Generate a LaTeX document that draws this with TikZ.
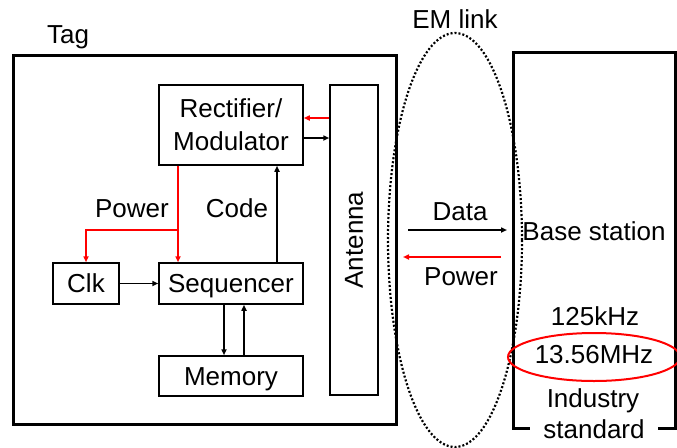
\documentclass[tikz,border=0pt]{standalone}
\usepackage{fontspec}
\setmainfont{Liberation Sans}
\usetikzlibrary{arrows.meta}

\begin{document}
\begin{tikzpicture}[x=1pt,y=-1pt,
    box/.style={draw,line width=1.5pt,inner sep=0pt,align=center},
    onebox/.style={box,text height=18.6pt,text depth=0pt},
    lbl/.style={anchor=base,inner sep=0pt},
    sig/.style={->,line width=1.5pt},
    pwr/.style={->,line width=1.8pt,red},
    >={Triangle[length=6pt,width=5pt]},
    font=\fontsize{26}{33}\selectfont]
    \useasboundingbox (0,0) rectangle (677,447);
    % tag side
    \draw[line width=3pt] (13,55) rectangle (396,424);
    \node[lbl] (tag) at (68,43) {Tag};
    \node[box,minimum width=144pt,minimum height=80pt] (rect) at (231,125) {Rectifier/\\Modulator};
    \node[box,minimum width=48pt,minimum height=310pt] (ant) at (354,240) {\rotatebox{90}{Antenna}};
    \node[onebox,minimum width=66pt,minimum height=41pt] (clk) at (86,283.5) {Clk};
    \node[onebox,minimum width=144pt,minimum height=41pt] (seq) at (231,283.5) {Sequencer};
    \node[onebox,minimum width=144pt,minimum height=40pt] (mem) at (231,376) {Memory};
    \node[lbl] (pwrlbl) at (132,217) {Power};
    \node[lbl] (codelbl) at (237,217) {Code};
    \coordinate (split) at (178,230);
    \draw[pwr,<-] ([yshift=7pt]rect.east) -- ([yshift=7pt]rect.east -| ant.west);
    \draw[sig] ([yshift=-13pt]rect.east) -- ([yshift=-13pt]rect.east -| ant.west);
    \draw[sig] ([xshift=46pt]seq.north) -- ([xshift=46pt]rect.south);
    \draw[pwr] ([xshift=-53pt]rect.south) -- ([xshift=-53pt]seq.north);
    \draw[pwr] (split) -| (clk.north);
    \draw[sig] (clk) -- (seq);
    \draw[sig] ([xshift=-7pt]seq.south) -- ([xshift=-7pt]mem.north);
    \draw[sig] ([xshift=13pt]mem.north) -- ([xshift=13pt]seq.south);
    % em link
    \draw[line width=2.2pt,dash pattern=on 2pt off 2pt] (455,240) ellipse [x radius=67pt,y radius=207pt];
    \node[lbl] (emlbl) at (455,28) {EM link};
    \coordinate (datas) at (408,230);
    \coordinate (datae) at (507,230);
    \coordinate (pwrs) at (501,257);
    \coordinate (pwre) at (403,257);
    \draw[sig] (datas) -- (datae);
    \draw[pwr] (pwrs) -- (pwre);
    \node[lbl] (datalbl) at (460,220) {Data};
    \node[lbl] (pwrlbl2) at (461,285) {Power};
    % base station
    \draw[line width=3pt] (513,52) rectangle (675,428);
    \node[lbl] (base) at (594,240) {Base station};
    \node[lbl] (khz) at (595,325) {125kHz};
    \node[lbl] (mhz) at (594,363) {13.56MHz};
    \draw[red,line width=2pt] (594,357) ellipse [x radius=86pt,y radius=24pt];
    \node[lbl] (ind) at (593,407) {Industry};
    \node[lbl,fill=white,inner xsep=13pt] (std) at (594,438) {standard};
\end{tikzpicture}
\end{document}
